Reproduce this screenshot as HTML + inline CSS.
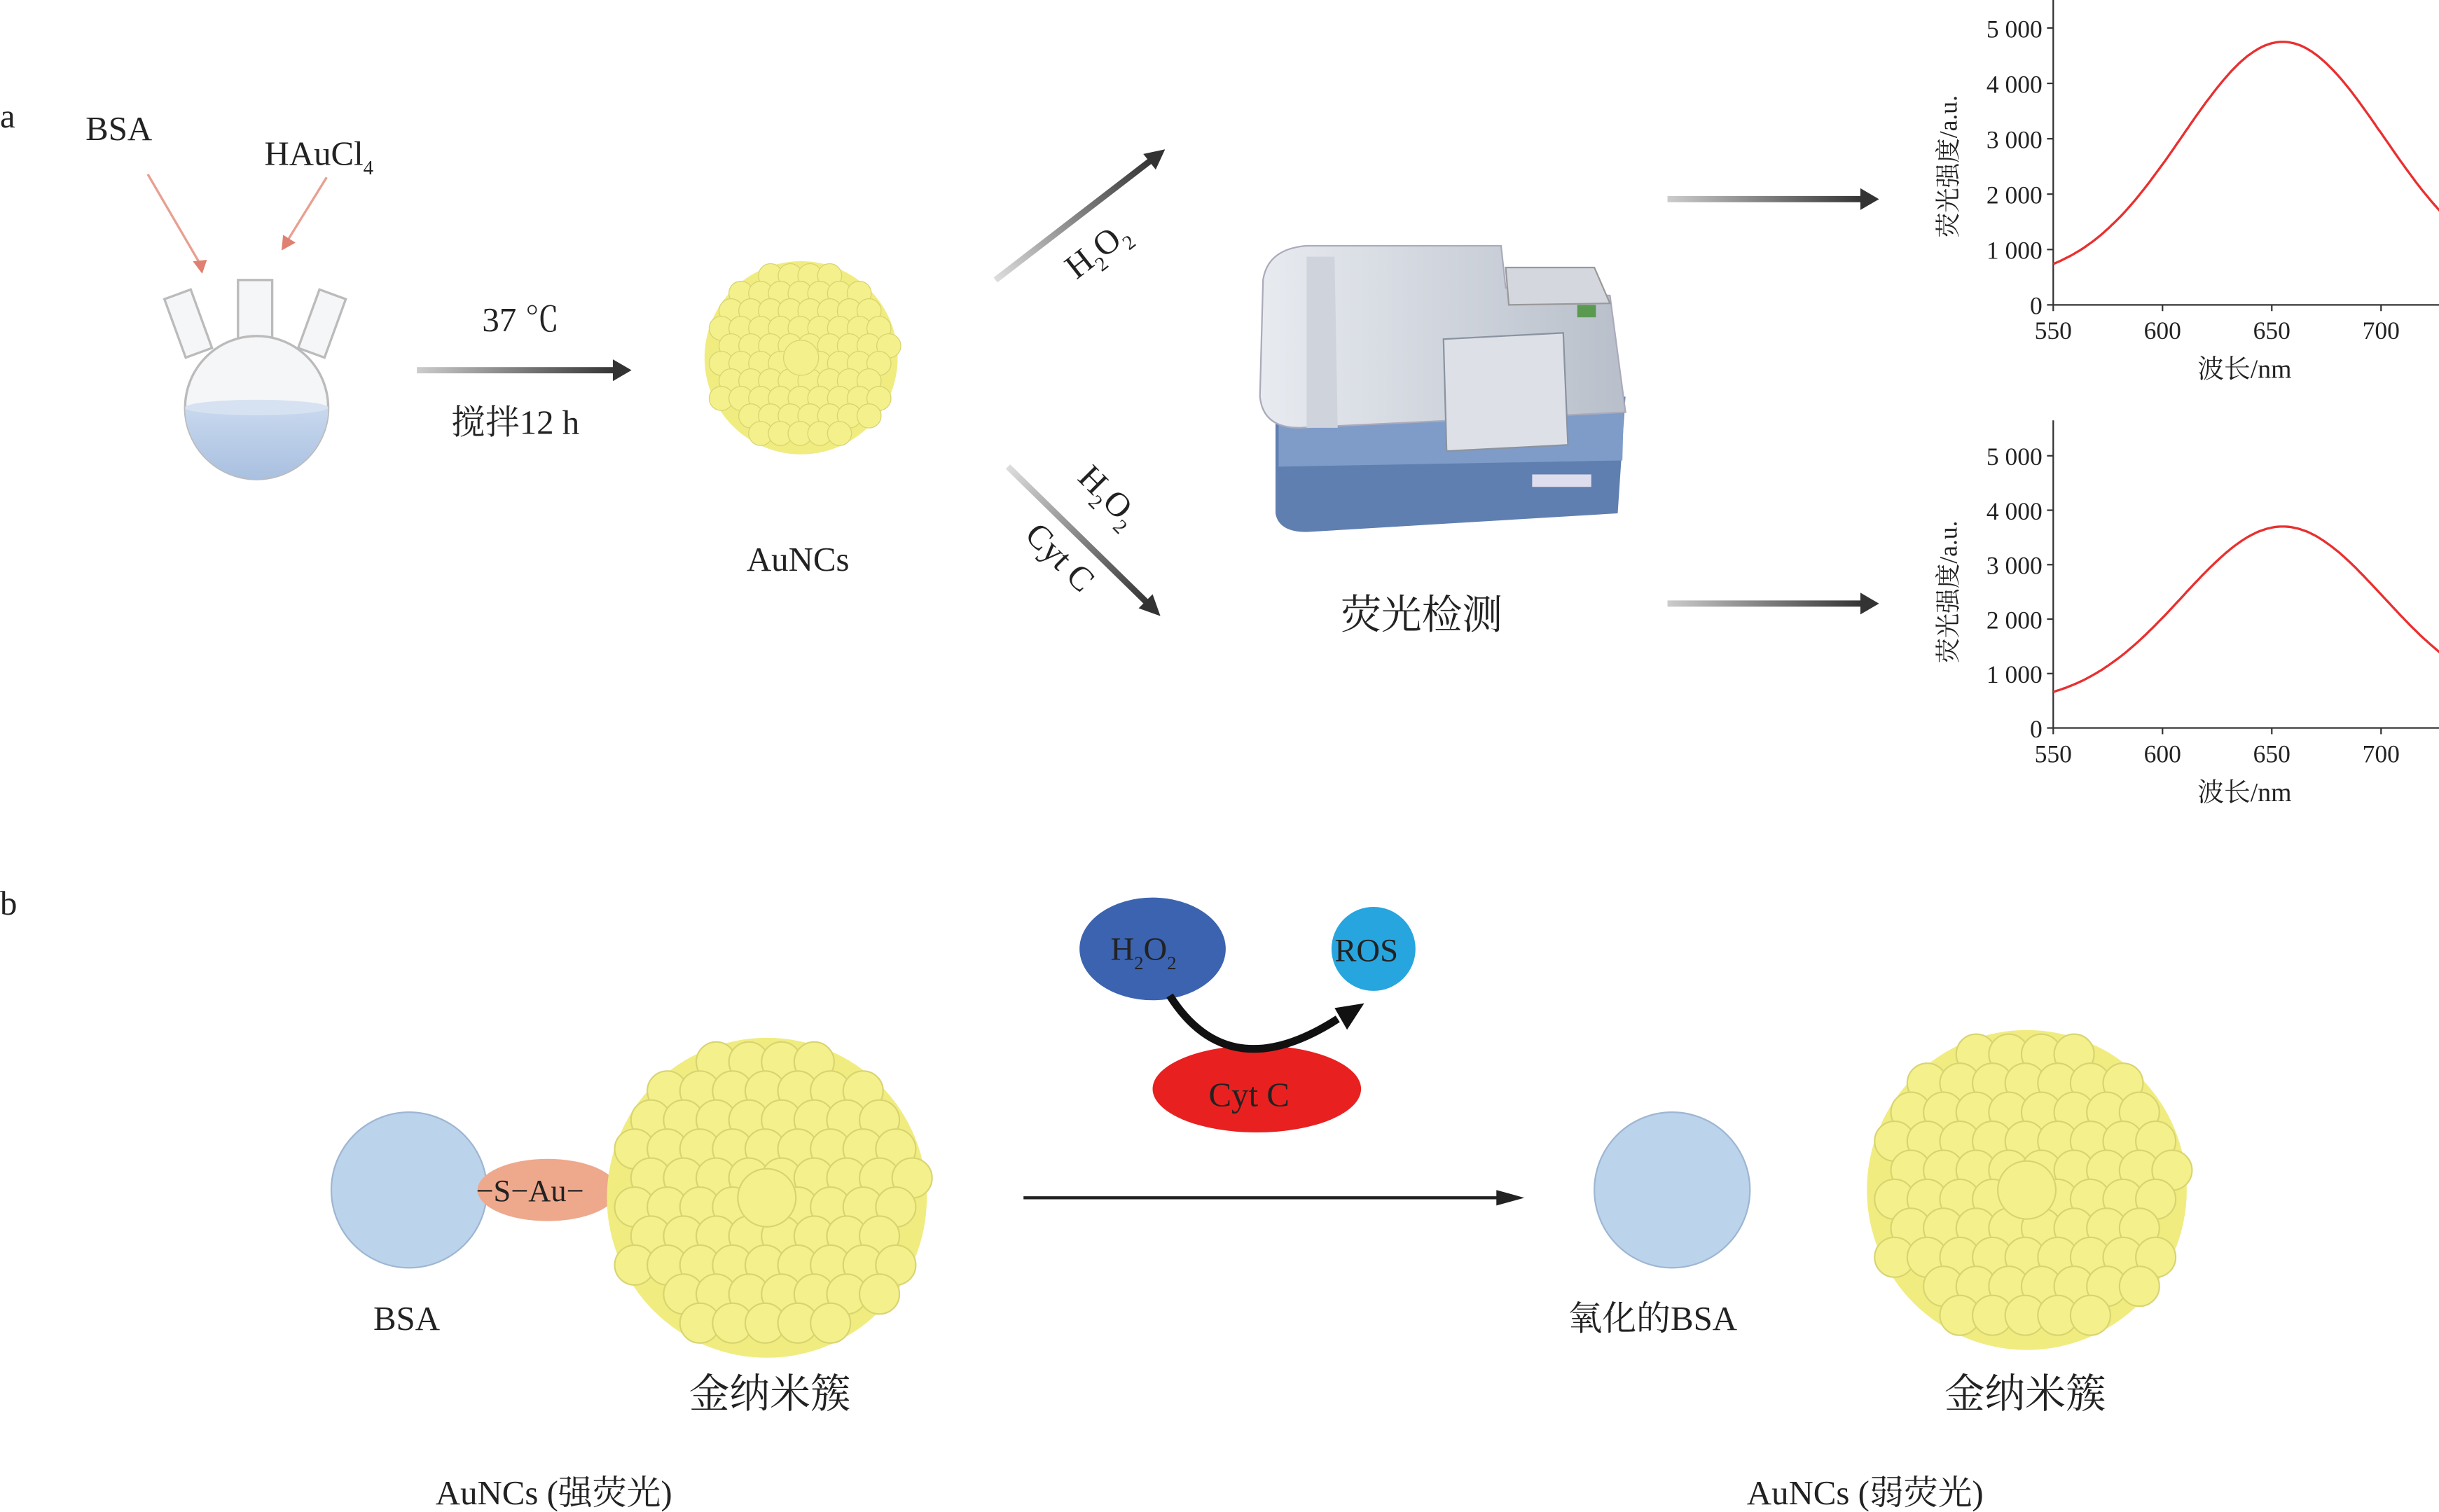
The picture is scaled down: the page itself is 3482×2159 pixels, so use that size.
<!DOCTYPE html>
<html><head><meta charset="utf-8"><style>
html,body{margin:0;padding:0;background:#fff}
svg{display:block}
text{font-family:"Liberation Serif","Noto Serif CJK SC",serif;fill:#222}
</style></head><body>
<svg id="s" width="3482" height="2159" viewBox="0 0 1568 972" preserveAspectRatio="none" xmlns="http://www.w3.org/2000/svg">
<defs>
<linearGradient id="ga" x1="0" x2="1" y1="0" y2="0"><stop offset="0" stop-color="#ccc"/><stop offset="1" stop-color="#333"/></linearGradient>
<linearGradient id="gu" x1="0" x2="1" y1="1" y2="0"><stop offset="0" stop-color="#ddd"/><stop offset="1" stop-color="#333"/></linearGradient>
<linearGradient id="gd" x1="0" x2="1" y1="0" y2="1"><stop offset="0" stop-color="#ddd"/><stop offset="1" stop-color="#333"/></linearGradient>
<linearGradient id="liq" x1="0" x2="0" y1="0" y2="1"><stop offset="0" stop-color="#c8d8ee"/><stop offset="1" stop-color="#a9c0e0"/></linearGradient>
<linearGradient id="body" x1="0" x2="1"><stop offset="0" stop-color="#e8ebf0"/><stop offset="1" stop-color="#b8bfca"/></linearGradient>
</defs>
<text x="0" y="82" font-size="22">a</text>
<text x="0" y="588" font-size="22">b</text>
<text x="55" y="90" font-size="22">BSA</text>
<text x="170" y="106" font-size="22">HAuCl<tspan font-size="13" dy="6">4</tspan></text>
<line x1="95" y1="112" x2="130" y2="172" stroke="#e8a090" stroke-width="1.5"/>
<polygon points="130,176 124,168 133,167" fill="#e08070"/>
<line x1="210" y1="114" x2="184" y2="156" stroke="#e8a090" stroke-width="1.5"/>
<polygon points="181,161 182,151 190,156" fill="#e08070"/>
<g stroke="#bbb" stroke-width="1.5" fill="#f4f6f8">
<rect x="153" y="180" width="22" height="50"/>
<rect x="112" y="188" width="18" height="40" transform="rotate(-20 121 208)"/>
<rect x="198" y="188" width="18" height="40" transform="rotate(20 207 208)"/>
<circle cx="165" cy="262" r="46"/>
</g>
<path d="M119,262 A46,46 0 0 0 211,262 Z" fill="url(#liq)"/>
<ellipse cx="165" cy="262" rx="46" ry="5" fill="#d6e2f2"/>
<rect x="268" y="236" width="128" height="4" fill="url(#ga)"/>
<polygon points="406,238 394,231 394,245" fill="#333"/>
<text x="310" y="213" font-size="22">37 ℃</text>
<text x="290" y="279" font-size="22">搅拌12 h</text>
<g id="c1"></g>
<text x="480" y="367" font-size="22">AuNCs</text>
<line x1="640" y1="180" x2="740" y2="103" stroke="url(#gu)" stroke-width="4"/>
<polygon points="749,96 735,99 743,109" fill="#333"/>
<text font-size="22" transform="translate(692,180) rotate(-38)">H<tspan font-size="13" dy="6">2</tspan><tspan dy="-6">O</tspan><tspan font-size="13" dy="6">2</tspan></text>
<line x1="648" y1="300" x2="738" y2="388" stroke="url(#gd)" stroke-width="4"/>
<polygon points="746,396 732,391 741,382" fill="#333"/>
<text font-size="22" transform="translate(692,308) rotate(45)">H<tspan font-size="13" dy="6">2</tspan><tspan dy="-6">O</tspan><tspan font-size="13" dy="6">2</tspan></text>
<text font-size="22" transform="translate(658,345) rotate(45)">Cyt C</text>
<path d="M820,260 L820,330 Q822,342 840,342 L1040,330 L1045,255 Z" fill="#5f7fb0"/>
<path d="M822,262 L822,300 L1043,296 L1044,258 Z" fill="#7f9cc8"/>
<path d="M812,180 Q815,160 840,158 L965,158 L968,185 L1035,190 L1045,265 L835,275 Q812,275 810,255 Z" fill="url(#body)" stroke="#aab" stroke-width="1"/>
<path d="M968,172 L1025,172 L1035,195 L970,196 Z" fill="#d4d8de" stroke="#999"/>
<rect x="1014" y="196" width="12" height="8" fill="#5a9a50"/>
<path d="M928,218 L1005,214 L1008,286 L930,290 Z" fill="#dde1e7" stroke="#8a93a0"/>
<path d="M840,165 L858,165 L860,275 L840,275 Z" fill="#cfd4dc"/>
<rect x="985" y="305" width="38" height="8" fill="#dde"/>
<text x="862" y="404" font-size="26">荧光检测</text>
<rect x="1072" y="126" width="126" height="4" fill="url(#ga)"/>
<polygon points="1208,128 1196,121 1196,135" fill="#333"/>
<rect x="1072" y="386" width="126" height="4" fill="url(#ga)"/>
<polygon points="1208,388 1196,381 1196,395" fill="#333"/>
<g id="g1"></g><g id="g2"></g>
<ellipse cx="741" cy="610" rx="47" ry="33" fill="#3b63b0"/>
<text x="714" y="617" font-size="21">H<tspan font-size="12" dy="6">2</tspan><tspan dy="-6">O</tspan><tspan font-size="12" dy="6">2</tspan></text>
<circle cx="883" cy="610" r="27" fill="#27a5df"/>
<text x="858" y="618" font-size="21">ROS</text>
<ellipse cx="808" cy="700" rx="67" ry="28" fill="#e82020"/>
<text x="777" y="711" font-size="22">Cyt C</text>
<path d="M752,640 Q790,700 860,655" fill="none" stroke="#111" stroke-width="5"/>
<polygon points="877,645 858,648 866,662" fill="#111"/>
<circle cx="263" cy="765" r="50" fill="#bcd3ec" stroke="#9db6d2"/>
<ellipse cx="352" cy="765" rx="45" ry="20" fill="#eea88c"/>
<text x="306" y="772" font-size="20">−S−Au−</text>
<g id="c2"></g>
<text x="240" y="855" font-size="22">BSA</text>
<text x="443" y="905" font-size="26">金纳米簇</text>
<text x="280" y="967" font-size="22">AuNCs (强荧光)</text>
<line x1="658" y1="770" x2="968" y2="770" stroke="#222" stroke-width="2"/>
<polygon points="980,770 962,765 962,775" fill="#222"/>
<circle cx="1075" cy="765" r="50" fill="#bcd3ec" stroke="#9db6d2"/>
<g id="c3"></g>
<text x="1008" y="855" font-size="22">氧化的BSA</text>
<text x="1250" y="905" font-size="26">金纳米簇</text>
<text x="1123" y="967" font-size="22">AuNCs (弱荧光)</text>
</svg>
<script>
var NS="http://www.w3.org/2000/svg";
function el(p,t,a){var e=document.createElementNS(NS,t);for(var k in a)e.setAttribute(k,a[k]);p.appendChild(e);return e;}
function cluster(id,cx,cy,R){
 var g=document.getElementById(id);var r=R*0.11;
 el(g,"circle",{cx:cx,cy:cy,r:R*0.97,fill:"#f0ec80"});
 for(var y=-R;y<=R;y+=r*1.6){var row=Math.round((y+R)/(r*1.6));
  for(var x=-R+(row%2?r*0.9:0);x<=R;x+=r*1.8){
   if(x*x+y*y<=(R-r*0.9)*(R-r*0.9)){
    el(g,"circle",{cx:cx+x,cy:cy+y,r:r*1.1,fill:"#f4f18c",stroke:"#d8d470","stroke-width":R/110});}}}
 el(g,"circle",{cx:cx,cy:cy,r:r*1.6,fill:"#f4f18c",stroke:"#d8d470","stroke-width":R/110});
}
cluster("c1",515,230,64);cluster("c2",493,770,106);cluster("c3",1303,765,106);
function graph(id,y0,y5,peak){
 var g=document.getElementById(id);var s=(y0-y5)/5000;
 el(g,"line",{x1:1320,y1:y0-(y0-y5)*1.13,x2:1320,y2:y0,stroke:"#333","stroke-width":1});
 el(g,"line",{x1:1320,y1:y0,x2:1568,y2:y0,stroke:"#333","stroke-width":1});
 var labs=["0","1 000","2 000","3 000","4 000","5 000"];
 for(var i=0;i<=5;i++){var y=y0-i*1000*s;
  el(g,"line",{x1:1316,y1:y,x2:1320,y2:y,stroke:"#333"});
  var t=el(g,"text",{x:1313,y:y+6,"font-size":16,"text-anchor":"end"});t.textContent=labs[i];}
 [550,600,650,700].forEach(function(v){var x=1320+(v-550)*1.405;
  el(g,"line",{x1:x,y1:y0,x2:x,y2:y0+4,stroke:"#333"});
  var t=el(g,"text",{x:x,y:y0+22,"font-size":16,"text-anchor":"middle"});t.textContent=v;});
 var t=el(g,"text",{x:1443,y:y0+47,"font-size":17,"text-anchor":"middle"});t.textContent="波长/nm";
 var t2=el(g,"text",{"font-size":16,"text-anchor":"middle",transform:"translate(1258,"+(y0-(y0-y5)/2)+") rotate(-90)"});t2.textContent="荧光强度/a.u.";
 var d="";for(var v=550;v<=727;v+=1){var I=420+(peak-420)*Math.exp(-Math.pow((v-655)/46,2)/2);
  d+=(v==550?"M":"L")+(1320+(v-550)*1.405).toFixed(1)+","+(y0-I*s).toFixed(1);}
 el(g,"path",{d:d,fill:"none",stroke:"#e83030","stroke-width":1.5});
}
graph("g1",196,18,4750);graph("g2",468,293,3700);
</script>
</body></html>
